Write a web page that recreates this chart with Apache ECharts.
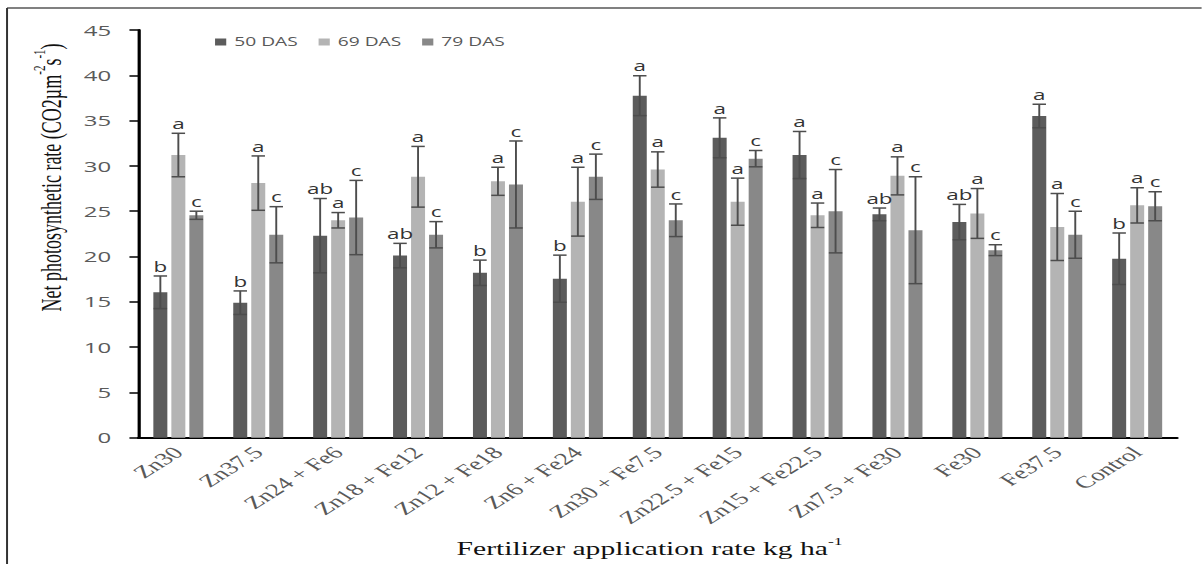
<!DOCTYPE html>
<html>
<head>
<meta charset="utf-8">
<script src="https://cdn.jsdelivr.net/npm/echarts@6/dist/echarts.min.js"></script>
<style>
html,body{margin:0;padding:0;overflow:hidden;background:#fff;width:1202px;height:564px;}
#c{width:751.25px;height:564px;transform:scaleX(1.6);transform-origin:0 0;}
</style>
</head>
<body>
<div id="c"></div>
<script>
// ---- data ----
const categories = ['Zn30','Zn37.5','Zn24 + Fe6','Zn18 + Fe12','Zn12 + Fe18','Zn6 + Fe24','Zn30 + Fe7.5','Zn22.5 + Fe15','Zn15 + Fe22.5','Zn7.5 + Fe30','Fe30','Fe37.5','Control'];
const seriesNames = ['50 DAS','69 DAS','79 DAS'];
const das50 = [16.05, 14.9, 22.3, 20.1, 18.2, 17.55, 37.75, 33.1, 31.2, 24.65, 23.8, 35.5, 19.75];
const err50 = [1.8, 1.3, 4.1, 1.35, 1.4, 2.6, 2.2, 2.2, 2.6, 0.7, 1.95, 1.3, 2.85];
const das69 = [31.2, 28.1, 24.0, 28.8, 28.3, 26.05, 29.6, 26.05, 24.55, 28.9, 24.75, 23.25, 25.65];
const err69 = [2.4, 3.0, 0.85, 3.35, 1.55, 3.8, 1.95, 2.6, 1.35, 2.1, 2.75, 3.7, 1.95];
const das79 = [24.55, 22.4, 24.3, 22.4, 27.95, 28.8, 24.0, 30.8, 25.0, 22.9, 20.7, 22.4, 25.55];
const err79 = [0.45, 3.1, 4.1, 1.45, 4.8, 2.5, 1.8, 0.9, 4.6, 5.9, 0.6, 2.6, 1.6];
const lab50 = ['b','b','ab','ab','b','b','a','a','a','ab','ab','a','b'];
const lab69 = ['a','a','a','a','a','a','a','a','a','a','a','a','a'];
const lab79 = ['c','c','c','c','c','c','c','c','c','c','c','c','c'];
const yMin = 0, yMax = 45, yStep = 5;

// ---- styling ----
const colors = ['#5c5c5c','#b4b4b4','#888888'];
const BAR_W = 8.75, BAR_GAP = 2.5;
const offsets = [-(BAR_W + BAR_GAP), 0, (BAR_W + BAR_GAP)];
const values = [das50, das69, das79];
const errors = [err50, err69, err79];
const labels = [lab50, lab69, lab79];

function errRenderer(si) {
  return function (params, api) {
    const cat = api.value(0), v = api.value(1), e = api.value(2);
    const x = api.coord([cat, v])[0] + offsets[si];
    const yT = api.coord([cat, v + e])[1];
    const yB = api.coord([cat, v - e])[1];
    const cw = 4.2;
    const ls = {stroke: '#4d4d4d', lineWidth: 1.2};
    const lsH = {stroke: '#4d4d4d', lineWidth: 1.5};
    return {
      type: 'group',
      children: [
        {type: 'line', shape: {x1: x, y1: yT, x2: x, y2: yB}, style: ls},
        {type: 'line', shape: {x1: x - cw, y1: yT, x2: x + cw, y2: yT}, style: lsH},
        {type: 'line', shape: {x1: x - cw, y1: yB, x2: x + cw, y2: yB}, style: lsH},
        {type: 'text', x: x, y: yT - 3, style: {
          text: labels[si][params.dataIndex], align: 'center', verticalAlign: 'bottom',
          fill: '#333333', font: '14px "Open Sans"'}}
      ]
    };
  };
}

const series = [];
for (let i = 0; i < 3; i++) {
  series.push({
    name: seriesNames[i], type: 'bar', data: values[i],
    barWidth: BAR_W, barGap: (BAR_GAP / BAR_W * 100).toFixed(1) + '%',
    itemStyle: {color: colors[i]}, z: 2
  });
}
for (let i = 0; i < 3; i++) {
  series.push({
    type: 'custom', renderItem: errRenderer(i), z: 5,
    data: values[i].map((v, k) => [k, v, errors[i][k]]),
    encode: {x: 0, y: 1}, silent: true
  });
}

const chart = echarts.init(document.getElementById('c'), null, {renderer: 'svg'});
chart.setOption({
  animation: false,
  backgroundColor: '#fff',
  color: colors,
  legend: {
    data: seriesNames, left: 134.4, top: 36, padding: 0,
    itemWidth: 7, itemHeight: 7, itemGap: 13, icon: 'rect',
    textStyle: {fontFamily: 'Open Sans', fontSize: 12, color: '#595959'}
  },
  grid: {left: 86.5, right: 15.3, top: 30, bottom: 126.3, containLabel: false},
  xAxis: {
    type: 'category', data: categories,
    axisLine: {lineStyle: {color: '#000', width: 2}},
    axisTick: {show: false},
    axisLabel: {interval: 0, rotate: 45, margin: 12, fontFamily: 'Liberation Serif', fontSize: 17, color: '#595959'}
  },
  yAxis: {
    type: 'value', min: yMin, max: yMax, interval: yStep,
    axisLine: {show: true, lineStyle: {color: '#000', width: 2}},
    axisTick: {show: true, length: 5.6, lineStyle: {color: '#000', width: 1.5}},
    splitLine: {show: false},
    axisLabel: {margin: 17, fontFamily: 'Open Sans', fontSize: 15, color: '#5a5a5a'}
  },
  graphic: [
    {type: 'line', shape: {x1: 4.4, y1: 8, x2: 760, y2: 8}, style: {stroke: '#808080', lineWidth: 2}, z: 10},
    {type: 'line', shape: {x1: 4.4, y1: 8, x2: 4.4, y2: 570}, style: {stroke: '#333', lineWidth: 1.25}, z: 10},
    {type: 'text', x: 30, y: 177.5, rotation: Math.PI / 2, z: 10, style: {
      text: '{n|Net photosynthetic rate (CO2µm}{s|-2}{n|s}{s|-1}{n|)}',
      align: 'center', verticalAlign: 'middle', fill: '#111',
      rich: {
        n: {fontFamily: 'Liberation Serif', fontSize: 18, color: '#111', lineHeight: 22, verticalAlign: 'bottom'},
        s: {fontFamily: 'Liberation Serif', fontSize: 11, color: '#111', lineHeight: 22, verticalAlign: 'top'}
      }
    }},
    {type: 'text', x: 406, y: 547, z: 10, style: {
      text: '{n|Fertilizer application rate kg ha}{s|-1}',
      align: 'center', verticalAlign: 'middle', fill: '#111',
      rich: {
        n: {fontFamily: 'Liberation Serif', fontSize: 18.5, color: '#111', lineHeight: 22, verticalAlign: 'bottom'},
        s: {fontFamily: 'Liberation Serif', fontSize: 11, color: '#111', lineHeight: 22, verticalAlign: 'top'}
      }
    }}
  ],
  series: series
});
</script>
</body>
</html>
